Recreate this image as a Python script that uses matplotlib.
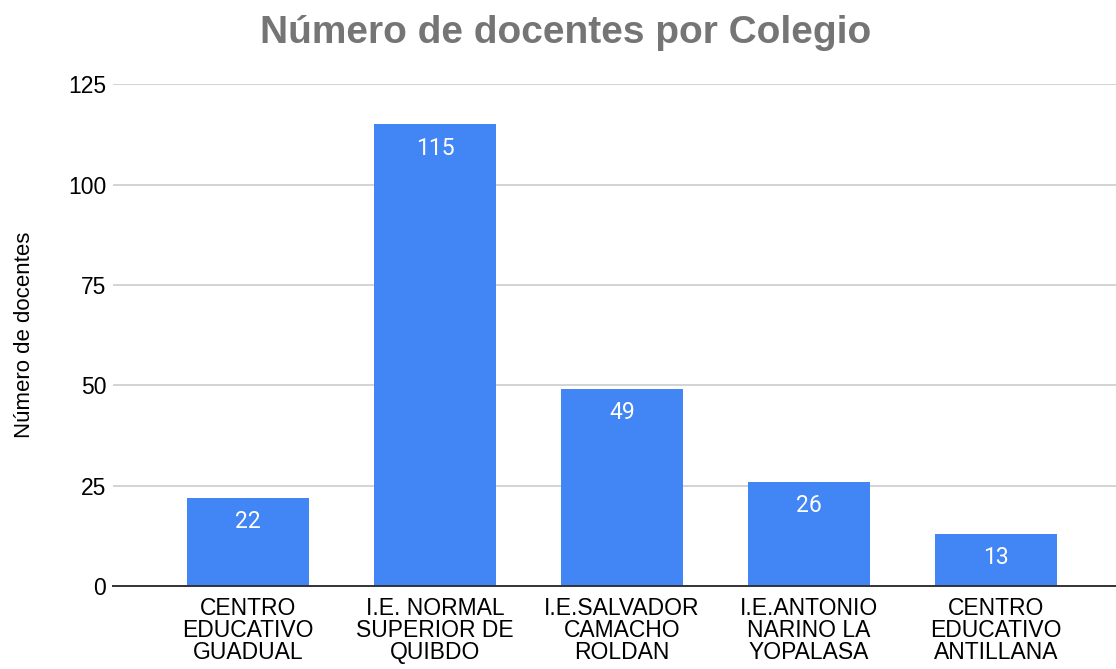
import matplotlib.pyplot as plt

colegios = [
    "CENTRO\nEDUCATIVO\nGUADUAL",
    "I.E. NORMAL\nSUPERIOR DE\nQUIBDO",
    "I.E.SALVADOR\nCAMACHO\nROLDAN",
    "I.E.ANTONIO\nNARINO LA\nYOPALASA",
    "CENTRO\nEDUCATIVO\nANTILLANA",
]
docentes = [22, 115, 49, 26, 13]
y_ticks = [0, 25, 50, 75, 100, 125]

plt.rcParams["font.family"] = ["Liberation Sans", "DejaVu Sans"]

fig = plt.figure(figsize=(11.16, 6.69), dpi=100)
ax = fig.add_axes([0.1013, 0.124, 0.8987, 0.750])

x = range(len(docentes))
bars = ax.bar(x, docentes, width=0.65, color="#4285F4", zorder=3)

for b, v in zip(bars, docentes):
    ax.annotate(str(v), (b.get_x() + b.get_width() / 2, v),
                xytext=(0, -17), textcoords="offset points",
                ha="center", va="center", color="white", fontsize=16.5,
                family=["Roboto", "DejaVu Sans"], zorder=4)

ax.set_xlim(-0.72, 4.64)
ax.set_ylim(0, 125)
ax.set_yticks(y_ticks)
ax.set_xticks(list(x))
ax.set_xticklabels(colegios, fontsize=16.5, linespacing=0.95)
ax.tick_params(axis="y", labelsize=16.5, length=0, pad=5)
ax.tick_params(axis="x", length=0, pad=8)

ax.grid(axis="y", color="#cccccc", linewidth=1.2, zorder=0)
for s in ["top", "right", "left"]:
    ax.spines[s].set_visible(False)
ax.spines["bottom"].set_color("#333333")
ax.spines["bottom"].set_linewidth(1.4)
ax.spines["bottom"].set_zorder(5)

ax.set_ylabel("Número de docentes", fontsize=16)
ax.yaxis.set_label_coords(-0.078, 0.5)

fig.text(0.507, 0.951, "Número de docentes por Colegio", ha="center", va="center",
         fontsize=28, fontweight="bold", color="#757575")

fig.savefig("out.png", dpi=100)
